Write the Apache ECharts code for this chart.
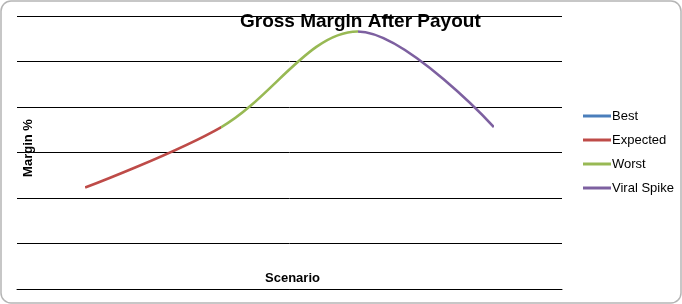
<!DOCTYPE html>
<html>
<head>
<meta charset="utf-8">
<style>
html,body{margin:0;padding:0;background:#fff;}
#chart{width:682px;height:304px;}
</style>
<script src="https://cdn.jsdelivr.net/npm/echarts@6/dist/echarts.min.js"></script>
</head>
<body>
<div id="chart"></div>
<script>
// ---- data ----
const categories = ['Stage 1', 'Stage 2', 'Stage 3', 'Stage 4'];
const marginValues = [22.3, 35.6, 56.6, 35.6];
const seriesNames = ['Best', 'Expected', 'Worst', 'Viral Spike'];
const seriesColors = ['#4a7ebb', '#be4b48', '#98b954', '#7d60a0'];
// category index range each scenario's segment spans (Best has no segment)
const segmentStart = [null, 0, 1, 2];
const segmentEnd = [null, 1, 2, 3];

const chart = echarts.init(document.getElementById('chart'), null, {renderer: 'canvas'});
const font = 'Liberation Sans, Arial, sans-serif';

const series = seriesNames.map((name, i) => ({
  name: name,
  type: 'line',
  smooth: 0.35,
  symbol: 'none',
  data: segmentStart[i] === null ? [] : marginValues,
  lineStyle: {width: 2.6},
  emphasis: {disabled: true}
}));

const visualMap = [];
seriesNames.forEach((name, i) => {
  if (segmentStart[i] === null) return;
  visualMap.push({
    show: false,
    type: 'piecewise',
    seriesIndex: i,
    dimension: 0,
    pieces: [{gte: segmentStart[i], lte: segmentEnd[i], color: seriesColors[i]}],
    outOfRange: {color: 'rgba(255,255,255,0)'}
  });
});

chart.setOption({
  animation: false,
  backgroundColor: '#fff',
  color: seriesColors,
  title: {
    text: 'Gross Margin After Payout',
    left: 240,
    top: 12,
    padding: 0,
    textStyle: {fontFamily: font, fontSize: 19, fontWeight: 'bold', color: '#000'}
  },
  legend: {
    orient: 'vertical',
    left: 583,
    top: 109,
    itemWidth: 28,
    itemHeight: 3,
    itemGap: 10,
    padding: 0,
    data: seriesNames.map((n, i) => ({name: n, icon: 'rect', itemStyle: {color: seriesColors[i]}})),
    textStyle: {fontFamily: font, fontSize: 13, color: '#000', lineHeight: 14, padding: [0, 0, 0, -4]}
  },
  grid: {left: 17, right: 120, top: 16, bottom: 15, containLabel: false},
  xAxis: {
    type: 'category',
    data: categories,
    boundaryGap: true,
    name: 'Scenario',
    nameLocation: 'middle',
    nameGap: -17,
    nameTextStyle: {fontFamily: font, fontSize: 13, fontWeight: 'bold', color: '#000', padding: [0, 0, 0, 6]},
    axisLine: {show: true, lineStyle: {color: '#000', width: 1}},
    axisTick: {show: false},
    axisLabel: {show: false},
    splitLine: {show: false}
  },
  yAxis: {
    type: 'value',
    min: 0,
    max: 60,
    interval: 10,
    name: 'Margin %',
    nameLocation: 'middle',
    nameRotate: 90,
    nameGap: -18,
    nameTextStyle: {fontFamily: font, fontSize: 13, fontWeight: 'bold', color: '#000', padding: [0, 0, 0, 9]},
    axisLine: {show: false},
    axisTick: {show: false},
    axisLabel: {show: false},
    splitLine: {show: true, lineStyle: {color: '#000', width: 1}}
  },
  visualMap: visualMap,
  graphic: [{
    type: 'rect',
    z: -10,
    silent: true,
    shape: {x: 1, y: 1, width: 680, height: 302, r: 10},
    style: {fill: 'none', stroke: '#b5b5b5', lineWidth: 1.5}
  }],
  series: series
});
</script>
</body>
</html>
